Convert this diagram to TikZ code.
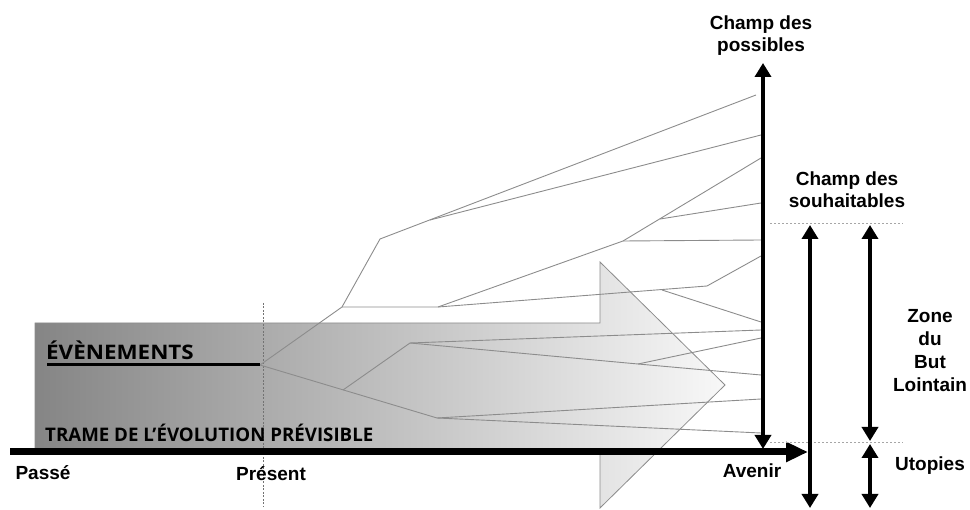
\documentclass[tikz,border=0pt]{standalone}
\usepackage{fontspec}
\setmainfont{Liberation Sans}
\newfontfamily\opensans{Open Sans}
\newfontfamily\opensanswide{Open Sans}[FakeStretch=1.12]
\usetikzlibrary{arrows.meta}
\definecolor{lin}{HTML}{8C8C8C}
\definecolor{shL}{HTML}{858585}
\definecolor{shR}{HTML}{F8F8F8}
\begin{document}
\begin{tikzpicture}[x=1pt,y=-1pt,
  branch/.style={draw=lin, line width=0.9pt, line join=round},
  bigarrow/.style={line width=4.5pt, {Triangle[length=14pt,width=16pt]}-{Triangle[length=14pt,width=16pt]}},
  lbl/.style={font=\fontsize{19}{22}\selectfont\bfseries, align=center, inner sep=0pt},
  guide/.style={draw=gray!70, dash pattern=on 2pt off 2pt, line width=0.8pt},
]
\useasboundingbox (0,0) rectangle (970,510);

% big shaded arrow (trame)
\shade[left color=shL, right color=shR, draw=lin, line width=0.8pt]
  (35,323) -- (600,323) -- (600,262) -- (725,385) -- (600,508) -- (600,452) -- (35,452) -- cycle;

% present line
\coordinate (pr0) at (263,303);
\coordinate (pr1) at (263,507);
\draw[draw=gray!90!black, dash pattern=on 2pt off 1.5pt, line width=0.7pt] (pr0) -- (pr1);

% branching points
\coordinate (E) at (260,365);
\coordinate (a1) at (342,307);
\coordinate (a2) at (380,239);
\coordinate (a3) at (430,220);
\coordinate (b1) at (438,307);
\coordinate (b2) at (623,241);
\coordinate (b3) at (660,219);
\coordinate (c1) at (707,286);
\coordinate (c2) at (662,290);
\coordinate (d0) at (343,390);
\coordinate (d1) at (437,418);
\coordinate (e1) at (410,343);
\coordinate (e2) at (638,364);
% end points at the "possibles" axis
\coordinate (p1) at (756,95);
\coordinate (p2) at (761,135);
\coordinate (p3) at (761,158);
\coordinate (p4) at (761,203);
\coordinate (p5) at (761,240);
\coordinate (p6) at (761,256);
\coordinate (p7) at (761,322);
\coordinate (p8) at (761,330);
\coordinate (p9) at (761,338);
\coordinate (p10) at (761,375);
\coordinate (p11) at (761,399);
\coordinate (p12) at (761,433);

\draw[branch] (E) -- (a1) -- (a2) -- (p1);
\draw[branch] (a3) -- (p2);
\draw[branch] (a1) -- (b1) -- (b2) -- (p3);
\draw[branch] (b3) -- (p4);
\draw[branch] (b2) -- (p5);
\draw[branch] (b1) -- (c1) -- (p6);
\draw[branch] (c2) -- (p7);
\draw[branch] (E) -- (d1) -- (p11);
\draw[branch] (d1) -- (p12);
\draw[branch] (d0) -- (e1) -- (p8);
\draw[branch] (e1) -- (e2) -- (p10);
\draw[branch] (e2) -- (p9);

% texts inside the trame
\node[font=\opensanswide\bfseries\fontsize{20}{20}\selectfont, inner sep=0pt, anchor=base west] (ev) at (46,360) {ÉVÈNEMENTS};
\coordinate (ev0) at (47,365);
\draw[line width=3pt] (ev0) -- (E);
\node[font=\opensans\bfseries\fontsize{18.7}{18.7}\selectfont, inner sep=0pt, anchor=west] (trame) at (45,433) {TRAME DE L’ÉVOLUTION PRÉVISIBLE};

% time axis
\coordinate (ax0) at (10,452);
\coordinate (ax1) at (808,452);
\draw[line width=7pt, -{Triangle[length=22pt,width=19pt]}] (ax0) -- (ax1);

% guides
\coordinate (g1a) at (770,223); \coordinate (g1b) at (903,223);
\coordinate (g2a) at (770,442); \coordinate (g2b) at (903,442);
\draw[guide] (g1a) -- (g1b);
\draw[guide] (g2a) -- (g2b);

% vertical arrows
\coordinate (v1t) at (763,63);  \coordinate (v1b) at (763,449);
\coordinate (v2t) at (810,225); \coordinate (v2b) at (810,508);
\coordinate (v3t) at (870,225); \coordinate (v3b) at (870,441);
\coordinate (v4t) at (870,444); \coordinate (v4b) at (870,508);
\draw[bigarrow] (v1t) -- (v1b);
\draw[bigarrow] (v2t) -- (v2b);
\draw[bigarrow] (v3t) -- (v3b);
\draw[bigarrow] (v4t) -- (v4b);

% labels
\node[lbl] (possibles) at (761,36) {Champ des\\possibles};
\node[lbl] (souhait) at (847,190) {Champ des\\souhaitables};
\node[lbl, font=\fontsize{19}{23}\selectfont\bfseries] (zone) at (930,351) {Zone\\du\\But\\Lointain};
\node[lbl] (utop) at (930,466) {Utopies};
\node[lbl] (avenir) at (752,471) {Avenir};
\node[lbl] (passe) at (43,473) {Passé};
\node[lbl] (present) at (271,474) {Présent};
\end{tikzpicture}
\end{document}
